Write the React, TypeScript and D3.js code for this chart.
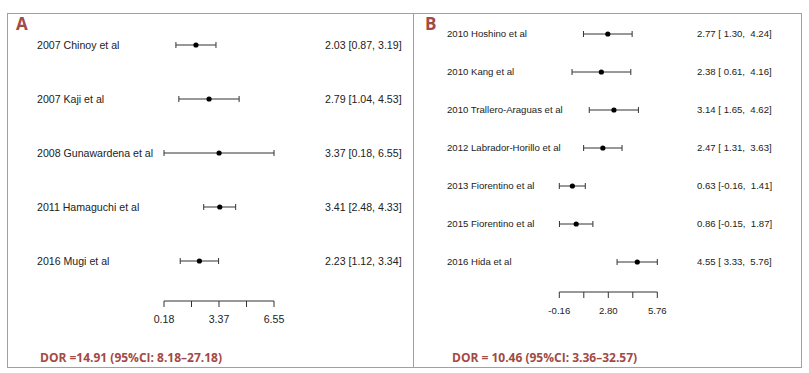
import React, { useEffect, useRef } from 'react';
import * as d3 from 'd3';

// panel A
const studiesA = ['2007 Chinoy et al', '2007 Kaji et al', '2008 Gunawardena et al', '2011 Hamaguchi et al', '2016 Mugi et al'];
const estA = [2.03, 2.79, 3.37, 3.41, 2.23];
const lowerA = [0.87, 1.04, 0.18, 2.48, 1.12];
const upperA = [3.19, 4.53, 6.55, 4.33, 3.34];
const ticksA = [0.18, 1.7725, 3.365, 4.9575, 6.55];
const tickLabelsA = ['0.18', '', '3.37', '', '6.55'];
const dorA = 'DOR =14.91 (95%CI: 8.18\u201327.18)';

// panel B
const studiesB = ['2010 Hoshino et al', '2010 Kang et al', '2010 Trallero-Araguas et al', '2012 Labrador-Horillo et al', '2013 Fiorentino et al', '2015 Fiorentino et al', '2016 Hida et al'];
const estB = [2.77, 2.38, 3.14, 2.47, 0.63, 0.86, 4.55];
const lowerB = [1.30, 0.61, 1.65, 1.31, -0.16, -0.15, 3.33];
const upperB = [4.24, 4.16, 4.62, 3.63, 1.41, 1.87, 5.76];
const ticksB = [-0.16, 1.32, 2.80, 4.28, 5.76];
const tickLabelsB = ['-0.16', '', '2.80', '', '5.76'];
const dorB = 'DOR = 10.46 (95%CI: 3.36\u201332.57)';

const RED = '#a24a45';
const FONT = '"Liberation Sans", Arial, sans-serif';

const fmt = (v: number) => {
  const s = v.toFixed(2);
  return v < 0 ? s : ' ' + s;
};

const App = () => {
  const ref = useRef<SVGSVGElement>(null);

  useEffect(() => {
    const svg = d3.select(ref.current);
    svg.selectAll('*').remove();

    const drawPanel = (opt: any) => {
      const g = svg.append('g');
      g.append('rect')
        .attr('x', opt.box[0] + 0.5).attr('y', opt.box[1] + 0.5)
        .attr('width', opt.box[2]).attr('height', opt.box[3])
        .attr('fill', 'none').attr('stroke', '#a0a0a0');

      g.append('text').text(opt.letter)
        .attr('x', opt.letterX).attr('y', 30)
        .style('font-family', '"Open Sans", sans-serif').style('font-weight', 700)
        .style('font-size', '17px').attr('fill', RED);

      const x = d3.scaleLinear().domain(opt.domain).range(opt.range);
      const y = d3.scaleLinear().domain([0, opt.studies.length - 1]).range(opt.yRange);

      const row = g.selectAll('.row').data(opt.studies).enter().append('g');
      row.append('text').text((d: string) => d)
        .attr('x', opt.labelX).attr('y', (d: string, i: number) => y(i) + opt.fs * 0.36)
        .style('font-family', FONT).style('font-size', opt.fs + 'px').attr('fill', '#222');

      row.append('line')
        .attr('x1', (d: string, i: number) => x(opt.lower[i])).attr('x2', (d: string, i: number) => x(opt.upper[i]))
        .attr('y1', (d: string, i: number) => y(i)).attr('y2', (d: string, i: number) => y(i))
        .attr('stroke', '#333').attr('stroke-width', 1);
      [opt.lower, opt.upper].forEach((arr: number[]) => {
        row.append('line')
          .attr('x1', (d: string, i: number) => x(arr[i])).attr('x2', (d: string, i: number) => x(arr[i]))
          .attr('y1', (d: string, i: number) => y(i) - 3).attr('y2', (d: string, i: number) => y(i) + 3)
          .attr('stroke', '#333').attr('stroke-width', 1);
      });
      row.append('circle')
        .attr('cx', (d: string, i: number) => x(opt.est[i])).attr('cy', (d: string, i: number) => y(i))
        .attr('r', 2.6).attr('fill', '#000');

      row.append('text')
        .text((d: string, i: number) => opt.pad
          ? `${opt.est[i].toFixed(2)} [${fmt(opt.lower[i])}, ${fmt(opt.upper[i])}]`
          : `${opt.est[i].toFixed(2)} [${opt.lower[i].toFixed(2)}, ${opt.upper[i].toFixed(2)}]`)
        .attr('x', opt.valueX).attr('y', (d: string, i: number) => y(i) + opt.fs * 0.36)
        .attr('xml:space', 'preserve').style('white-space', 'pre')
        .style('font-family', FONT).style('font-size', opt.fs + 'px').attr('fill', '#222');

      // axis
      const axis = g.append('g').attr('transform', `translate(0,${opt.axisY})`);
      axis.append('line').attr('x1', x(opt.ticks[0])).attr('x2', x(opt.ticks[opt.ticks.length - 1]))
        .attr('stroke', '#333');
      axis.selectAll('.tk').data(opt.ticks).enter().append('line')
        .attr('x1', (d: number) => x(d)).attr('x2', (d: number) => x(d))
        .attr('y1', 0).attr('y2', 6).attr('stroke', '#333');
      axis.selectAll('.tl').data(opt.ticks).enter().append('text')
        .text((d: number, i: number) => opt.tickLabels[i])
        .attr('x', (d: number) => x(d)).attr('y', 22)
        .attr('text-anchor', 'middle')
        .style('font-family', FONT).style('font-size', opt.fs + 'px').attr('fill', '#222');

      g.append('text').text(opt.dor)
        .attr('x', opt.dorX).attr('y', 362)
        .style('font-family', '"Open Sans", sans-serif').style('font-weight', 700)
        .style('font-size', '12px').attr('fill', RED);
    };

    drawPanel({
      box: [7, 13, 406, 354], letter: 'A', letterX: 16,
      studies: studiesA, est: estA, lower: lowerA, upper: upperA,
      domain: [0.18, 6.55], range: [164, 274], yRange: [45, 261],
      labelX: 37, valueX: 325, fs: 10.6, pad: false,
      ticks: ticksA, tickLabels: tickLabelsA, axisY: 301, dor: dorA, dorX: 40,
    });
    drawPanel({
      box: [413, 13, 388, 354], letter: 'B', letterX: 425,
      studies: studiesB, est: estB, lower: lowerB, upper: upperB,
      domain: [-0.16, 5.76], range: [559.3, 657.3], yRange: [34, 262],
      labelX: 447, valueX: 697, fs: 9.6, pad: true,
      ticks: ticksB, tickLabels: tickLabelsB, axisY: 292, dor: dorB, dorX: 452,
    });
  }, []);

  return (
    <svg ref={ref} width={809} height={373}
      style={{ position: 'absolute', left: 0, top: 0, background: '#fff' }} />
  );
};

export default App;
